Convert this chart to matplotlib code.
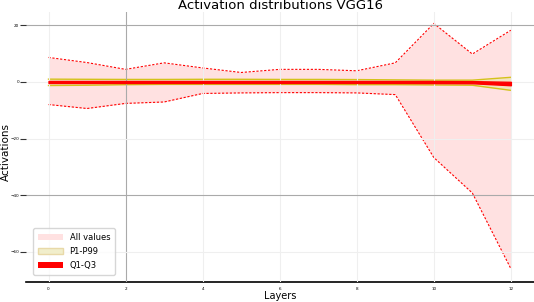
import numpy as np
import matplotlib
matplotlib.use("Agg")
import matplotlib.pyplot as plt
from matplotlib.patches import Patch

# 激活值分布 (每层)
layers = np.arange(13)
act_max = [8.6, 6.8, 4.4, 6.7, 4.9, 3.3, 4.4, 4.4, 3.9, 6.7, 20.6, 9.8, 18.2]
act_min = [-8.0, -9.4, -7.6, -7.1, -4.1, -3.9, -3.8, -3.8, -3.9, -4.5, -26.7, -39.2, -65.9]
p99 = [0.95, 0.9, 0.85, 0.85, 0.9, 0.9, 0.85, 0.85, 0.8, 0.7, 0.6, 0.6, 1.6]
p1 = [-1.3, -1.2, -1.0, -0.9, -0.9, -0.9, -0.9, -0.9, -1.0, -1.0, -1.1, -1.2, -3.0]
q3 = [0.3, 0.3, 0.3, 0.3, 0.3, 0.3, 0.3, 0.3, 0.3, 0.3, 0.3, 0.25, 0.0]
q1 = [-0.4, -0.4, -0.4, -0.4, -0.4, -0.4, -0.4, -0.4, -0.4, -0.4, -0.45, -0.5, -1.2]

xticks = [0, 2, 4, 6, 8, 10, 12]
yticks = [20, 0, -20, -40, -60]

fig = plt.figure(figsize=(5.34, 3.02), dpi=100)
ax = fig.add_axes([0.049, 0.067, 0.951, 0.893])

ax.fill_between(layers, act_min, act_max, color='#ffe1e1', linewidth=0, zorder=1)
ax.plot(layers, act_max, color='red', linestyle='--', linewidth=0.8, dashes=(2, 1.5), zorder=2)
ax.plot(layers, act_min, color='red', linestyle='--', linewidth=0.8, dashes=(2, 1.5), zorder=2)
ax.fill_between(layers, p1, p99, color='#f3e4c0', linewidth=0, zorder=1.2)
ax.plot(layers, p99, color='#d4c21a', linewidth=1.0, zorder=2)
ax.plot(layers, p1, color='#d4c21a', linewidth=1.0, zorder=2)
ax.fill_between(layers, q1, q3, color='red', edgecolor='red', linewidth=1.0, zorder=3)

ax.set_xlim(-0.58, 12.6)
ax.set_ylim(-70.5, 24.6)
ax.set_xticks(xticks)
ax.set_yticks(yticks)
ax.tick_params(labelsize=3, length=0, pad=4)
ax.tick_params(axis='y', length=4, width=0.8, color='#333333', pad=1)

ax.set_axisbelow(False)
ax.grid(True, color='#efefef', linewidth=0.8)
# 这几条网格线在原图里更深
ax.xaxis.get_gridlines()[1].set_color('#aaaaaa')
ax.yaxis.get_gridlines()[0].set_color('#aaaaaa')
ax.yaxis.get_gridlines()[3].set_color('#aaaaaa')

for s in ['left', 'top', 'right']:
    ax.spines[s].set_visible(False)
ax.spines['bottom'].set_color('black')
ax.spines['bottom'].set_linewidth(1.2)

ax.set_title('Activation distributions VGG16', fontsize=9.5, pad=2)
ax.set_xlabel('Layers', fontsize=7)
ax.set_ylabel('Activations', fontsize=7.5)
ax.xaxis.set_label_coords(0.5, -0.035)
ax.yaxis.set_label_coords(-0.031, 0.48)

handles = [Patch(facecolor='#ffe1e1', label='All values'),
           Patch(facecolor='#f1eecb', edgecolor='#e8d9a8', label='P1-P99'),
           Patch(facecolor='red', label='Q1-Q3')]
ax.legend(handles=handles, loc='lower left', fontsize=6, frameon=True,
          handlelength=3, borderpad=0.6, labelspacing=0.6, bbox_to_anchor=(0.005, 0.01))

fig.savefig('out.png', dpi=100)
